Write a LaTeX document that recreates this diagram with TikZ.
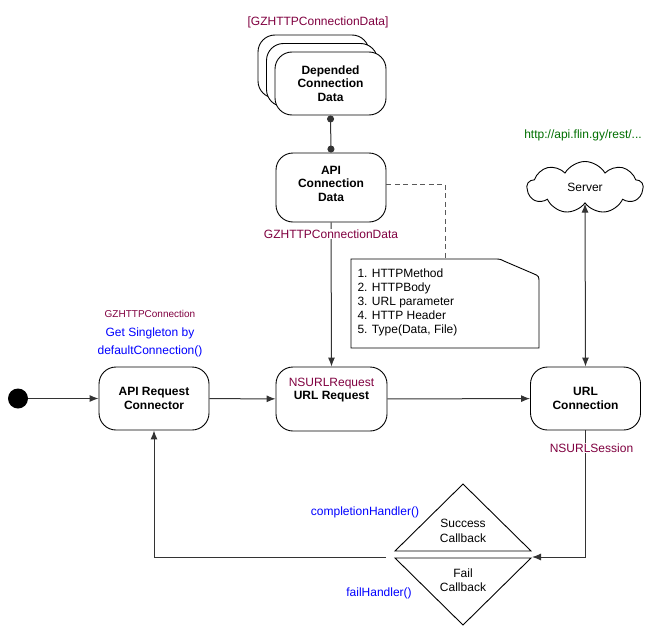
\documentclass[tikz,border=0pt]{standalone}
\usepackage{fontspec}
\setmainfont{Liberation Sans}
\usetikzlibrary{arrows.meta,shapes.symbols}
\definecolor{mrn}{RGB}{128,0,64}
\definecolor{hblue}{RGB}{0,0,255}
\definecolor{hgreen}{RGB}{0,110,0}
\newcommand\fsz{\fontsize{12}{13.5}\selectfont}
\begin{document}
\begin{tikzpicture}[x=1pt,y=-1pt,font=\fsz,
  stbox/.style={draw, line width=0.9pt, fill=white, rounded corners=17pt, minimum width=110pt, minimum height=63pt, align=center, font=\fsz\bfseries, inner sep=0pt},
  conn/.style={line width=1pt, draw=black!80},
  arr/.style={conn, -{Latex[length=9pt,width=7pt]}},
  biarr/.style={conn, {Latex[length=9pt,width=7pt]}-{Latex[length=9pt,width=7pt]}},
  dotarr/.style={conn, {Circle[length=7pt]}-{Circle[length=7pt]}},
  dashln/.style={line width=1pt, draw=black!65, dash pattern=on 5pt off 3.5pt},
  mlabel/.style={text=mrn, fill=white, inner sep=1pt},
  blabel/.style={text=hblue, align=center},
  plain/.style={align=center}]
\useasboundingbox (0,0) rectangle (660,626);

% stack of depended connection data
\node[stbox, minimum width=111pt] (dep3) at (313.5,66.5) {};
\node[stbox, minimum width=111pt] (dep2) at (322,75) {};
\node[stbox, minimum width=111pt] (dep) at (330.5,83.5) {Depended\\Connection\\Data};
\node[text=mrn] (deplbl) at (318,22) {[GZHTTPConnectionData]};

% API connection data
\node[stbox, minimum height=69pt] (apidata) at (331,187.5) {};
\node[plain, font=\fsz\bfseries] (apitxt) at (331,183.5) {API\\Connection\\Data};

% main states
\node[circle, fill=black, minimum size=20pt, inner sep=0pt] (start) at (18,398.5) {};
\node[stbox] (arc) at (154,398.5) {API Request\\Connector};
\node[stbox, minimum width=111pt, minimum height=64pt] (ureq) at (331.5,399) {};
\node[plain] (ureqtxt) at (331.5,390) {\textcolor{mrn}{NSURLRequest}\\\textbf{URL Request}};
\node[stbox] (uconn) at (585.5,398.5) {URL\\Connection};

% server
\node[cloud, draw, line width=0.9pt, cloud puffs=9, cloud puff arc=120, aspect=2.3,
      minimum width=116pt, minimum height=52pt, inner sep=0pt] (server) at (585,187.5) {Server};
\node[text=hgreen] (url) at (583,135) {http://api.flin.gy/rest/...};

% labels near API request connector
\node[text=mrn, font=\fontsize{10}{12}\selectfont] (gzc) at (150,314) {GZHTTPConnection};
\node[blabel, font=\fontsize{12}{18}\selectfont] (single) at (150,342) {Get Singleton by\\defaultConnection()};

% note
\draw[line width=0.9pt] (351,348) -- (351,259) -- (494,259) .. controls (500,259) .. (505,261.5)
  -- (533,273.5) .. controls (539,276) .. (539,283) -- (539,348) -- cycle;
\node[align=left, anchor=west, font=\fontsize{12}{14}\selectfont] (note) at (354,302)
  {1. HTTPMethod\\2. HTTPBody\\3. URL parameter\\4. HTTP Header\\5. Type(Data, File)};
\coordinate (notetop) at (445,259);

% diamond (callbacks)
\coordinate (dtop) at (463,484);
\coordinate (dbot) at (463,625);
\draw[line width=0.9pt] (dtop) -- (531,551) -- (395,551) -- cycle;
\draw[line width=0.9pt] (395,558) -- (531,558) -- (dbot) -- cycle;
\node[plain, font=\fontsize{12}{15}\selectfont] (succ) at (463,530.5) {Success\\Callback};
\node[plain, font=\fontsize{12}{14}\selectfont] (fail) at (463,580) {Fail\\Callback};
\node[text=hblue] (comph) at (365,512) {completionHandler()};
\node[text=hblue] (failh) at (379,593) {failHandler()};
\coordinate (dright) at (532,557);
\coordinate (dleft) at (386,557);

% connectors
\draw[dotarr] (dep.south) -- (apidata.north);
\draw[dashln] (apidata.east |- 0,184) -| (notetop);
\draw[arr] (apidata.south) -- (ureq.north);
\node[mlabel] (gzcd) at (331,234) {GZHTTPConnectionData};
\draw[arr] (start) -- (arc);
\draw[arr] (arc) -- (ureq);
\draw[arr] (ureq) -- (uconn);
\draw[biarr] (server.south) -- (uconn.north);
\draw[arr] (uconn.south) |- (dright);
\node[mlabel] (sess) at (591.5,448) {NSURLSession};
\draw[arr] (dleft) -| (arc.south);
\end{tikzpicture}
\end{document}
